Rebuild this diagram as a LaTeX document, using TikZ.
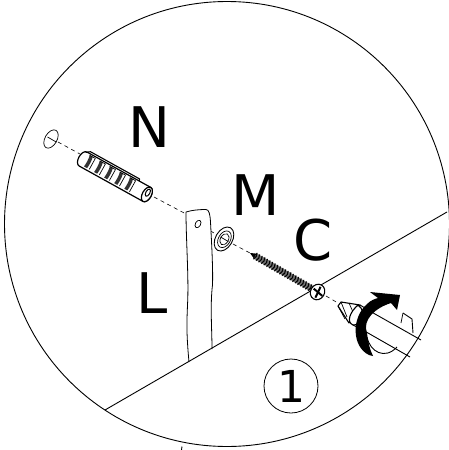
\documentclass[tikz,border=0pt]{standalone}
\usepackage{fontspec}
\setmainfont{DejaVu Sans}
\tikzset{
 lbl/.style={font=\fontsize{56}{56}\selectfont,inner sep=0pt,text=black},
 ink/.style={draw=black,line width=0.9pt,line join=round},
 thin ink/.style={draw=black,line width=0.7pt},
 axis line/.style={draw=black,line width=0.6pt,dash pattern=on 4pt off 3.5pt},
 along/.style={x={(.866pt,-.5pt)},y={(.5pt,.866pt)}}
}
\begin{document}
\begin{tikzpicture}[x=1pt,y=-1pt]
\useasboundingbox (0,0) rectangle (449,450);
\fill[white] (0,0) rectangle (449,450);
\begin{scope}
\clip (0,0) rectangle (449,450);
\draw[ink] (227,224) circle [radius=222.5];
\end{scope}
\draw[ink] (182,446.5) -- (181.5,450);
% axis
\draw[axis line] (58,142) -- (80,154);
\draw[axis line] (154,197) -- (186,214);
\draw[axis line] (204,227) -- (214,233);
\draw[axis line] (233,244) -- (250,253);
\draw[axis line] (326,296) -- (338,303);
% wall hole
\begin{scope}[shift={(51,139)},along]
 \draw[thin ink] (0,0) ellipse [x radius=6,y radius=10];
 \draw[thin ink] (-4,0) -- (6,0);
\end{scope}
% strap
\draw[ink,fill=white,line width=0.8pt] (189,362) .. controls (186,330) and (187,320) .. (187.5,305)
 .. controls (189,280) and (186,240) .. (186,212)
 .. controls (192,210) and (200,209.5) .. (206,209.5)
 .. controls (209,209.5) and (210,214) .. (210.5,222)
 .. controls (212,250) and (213,270) .. (212.5,285)
 .. controls (210,305) and (212,330) .. (212,349);
\draw[ink] (105,410) -- (447,212);
\begin{scope}[shift={(198,224)},along]
 \draw[thin ink] (0,0) ellipse [x radius=2.6,y radius=4];
\end{scope}
% washer
\begin{scope}[shift={(224,239)},along]
 \draw[ink,fill=white] (0,0) ellipse [x radius=8.5,y radius=13];
 \draw[thin ink] (0.5,0) ellipse [x radius=6,y radius=9];
 \draw[thin ink] (0.5,0) ellipse [x radius=4,y radius=6];
 \draw[thin ink] (-4,0) -- (5,0);
\end{scope}
% anchor
\begin{scope}[shift={(83,159)},x={(.875pt,-.485pt)},y={(.485pt,.875pt)}]
 \draw[ink,fill=white,line width=1.2pt] (0,8) -- (73,8) arc [start angle=90,end angle=-90,x radius=4.5,y radius=8] -- (0,-8)
   arc [start angle=270,end angle=90,x radius=4.5,y radius=8];
 \draw[ink,fill=white,line width=1.2pt] (73,0) ellipse [x radius=4.5,y radius=8];
 \draw[black,fill=white,line width=1pt] (73,2) ellipse [x radius=2,y radius=4];
 \draw[ink,line width=1.1pt] (-1,7) -- (3,10) -- (59,10) -- (60,8);
 \foreach \a in {4,15.5,27,38.5,50}{
   \fill[black!80] (\a,6.5) .. controls (\a+1,3) and (\a+1,-2) .. (\a+0.5,-6) -- (\a+4,-6) .. controls (\a+4.5,-2) and (\a+4.5,3) .. (\a+3.5,6.5) -- cycle;
   \draw[thin ink] (\a+6.5,6.5) -- (\a+6.5,-6);
   \draw[thin ink] (\a,6.5) -- (\a+6.5,6.5);
 }
\end{scope}
% screw
\begin{scope}[shift={(250,253)},along]
 \fill (0,0) -- (7,3.2) -- (7,-3.2) -- cycle;
 \fill[black!55] (6,3) -- (72,3) -- (72,-3) -- (6,-3) -- cycle;
 \foreach \a in {6,9,...,72}{
   \draw[black,line width=1.1pt] (\a,3.6) .. controls (\a+1.5,1) and (\a+1.5,-1) .. (\a,-3.6);
 }
 \draw[ink,fill=white,line width=1.1pt] (78,0) ellipse [x radius=7,y radius=8];
 \draw[line width=2pt] (73,1) -- (84,-1);
 \draw[line width=2pt] (78,6) -- (79,-6);
\end{scope}
% screwdriver
\draw[ink,fill=white,line width=1.1pt] (338,306) -- (341,302) -- (360,305) -- (349,323) -- cycle;
\draw[thin ink] (341,302) -- (347,317);
\draw[thin ink] (349,303) -- (353,312);
\draw[thin ink] (338,306) -- (345,319);
\draw[ink,fill=white,line width=1.1pt] (358,305) .. controls (350,312) and (346,322) .. (353,325) .. controls (360,326) and (368,312) .. (358,305);
\draw[ink] (360,305) -- (375,314) -- (421,340);
\draw[ink] (353,325) -- (368,333) -- (410,357);
\draw[ink] (403,313) -- (412,319) -- (413,333);
\draw[thin ink] (403,313) -- (401,323);
\draw[ink] (367,337) .. controls (370,352) and (385,360) .. (397,347);
% turn arrow
\fill[black] (369,355) .. controls (352,347) and (351,318) .. (367,304)
 .. controls (371,300) and (375,299) .. (378,298)
 -- (370,292) -- (400,295) -- (397,310) -- (391,303)
 .. controls (375,308) and (362,320) .. (367,333)
 .. controls (368,342) and (370,350) .. (373,356) -- cycle;
% labels
\node[lbl] (n) at (149.5,127) {N};
\node[lbl] (m) at (256,195) {M};
\node[lbl] (c) at (313,240) {C};
\node[lbl] (l) at (152,293) {L};
\node[draw=black,line width=0.8pt,circle,minimum size=54pt,inner sep=0pt,font=\fontsize{44}{44}\selectfont] (one) at (291,386) {1};
\end{tikzpicture}
\end{document}
